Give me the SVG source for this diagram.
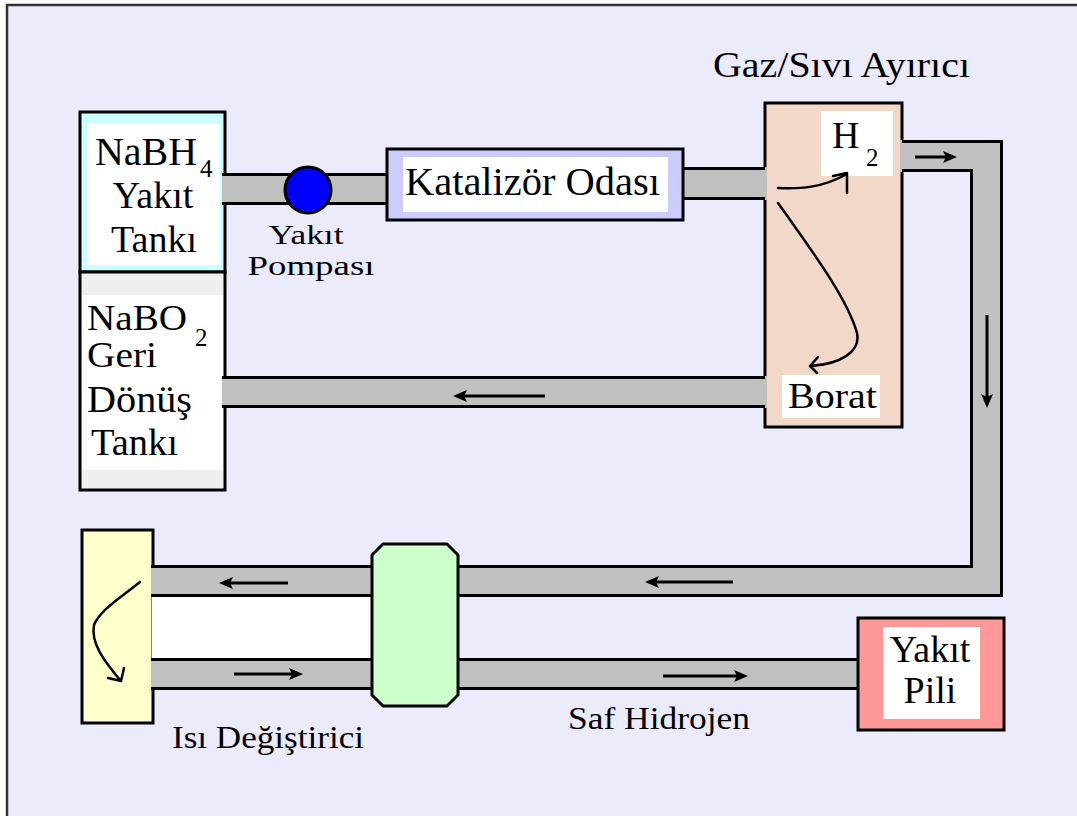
<svg xmlns="http://www.w3.org/2000/svg" width="1077" height="816" viewBox="0 0 1077 816">
<style>
text{font-family:"Liberation Serif","DejaVu Serif",serif;fill:#000}
.box{stroke:#000;stroke-width:3}
.pipe{fill:#c0c0c0}
.edge{stroke:#000;stroke-width:3;fill:none}
.flow{stroke:#000;stroke-width:3;fill:none}
.hand{stroke:#000;stroke-width:2.5;fill:none;stroke-linecap:round;stroke-linejoin:round}
</style>
<defs>
<marker id="ah" viewBox="0 0 14 12" refX="9" refY="6" markerWidth="14" markerHeight="12" markerUnits="userSpaceOnUse" orient="auto">
<path d="M0,0 L14,6 L0,12 L3,6 Z" fill="#000"/>
</marker>
</defs>
<rect x="0" y="0" width="1077" height="816" fill="#fff"/>
<rect id="frame" x="7" y="5" width="1090" height="830" fill="#ebebfc" stroke="#333" stroke-width="2.5"/>

<g id="nabh4-tank">
<rect class="box" x="80" y="112" width="145" height="160" fill="#ccffff"/>
<rect x="87" y="124" width="133" height="141" fill="#fff"/>
<text x="95" y="165" font-size="40" textLength="102" lengthAdjust="spacingAndGlyphs">NaBH</text>
<text x="200" y="177" font-size="25">4</text>
<text x="153" y="208" font-size="38" text-anchor="middle">Yakıt</text>
<text x="154" y="252" font-size="38" text-anchor="middle">Tankı</text>
</g>

<g id="nabo2-tank">
<rect class="box" x="80" y="272" width="145" height="218" fill="#efefef"/>
<rect x="82" y="295" width="141" height="175" fill="#fff"/>
<text x="87" y="330" font-size="35" textLength="100" lengthAdjust="spacingAndGlyphs">NaBO</text>
<text x="195" y="346" font-size="25">2</text>
<text x="87" y="367" font-size="35" textLength="70" lengthAdjust="spacingAndGlyphs">Geri</text>
<text x="87" y="412" font-size="37" textLength="105" lengthAdjust="spacingAndGlyphs">Dönüş</text>
<text x="91" y="455" font-size="37" textLength="87" lengthAdjust="spacingAndGlyphs">Tankı</text>
</g>

<g id="separator">
<rect class="box" x="765" y="103" width="137" height="324" fill="#f2d8c8"/>
<rect x="821" y="111" width="72" height="65" fill="#fff"/>
<text x="832" y="148" font-size="38">H</text>
<text x="866" y="166" font-size="25">2</text>
<rect x="782" y="375" width="98" height="43" fill="#fff"/>
<text x="788" y="408" font-size="36" textLength="89" lengthAdjust="spacingAndGlyphs">Borat</text>
<text x="713" y="77" font-size="36" textLength="257" lengthAdjust="spacingAndGlyphs">Gaz/Sıvı Ayırıcı</text>
</g>

<g id="heat-exchanger-end">
<rect class="box" x="82" y="530" width="71" height="193" fill="#ffffcc"/>
</g>

<g id="connectors">
<rect class="pipe" x="222" y="173" width="165" height="32"/>
<path class="edge" d="M222,174.5 H387 M222,203.5 H387"/>
<rect class="pipe" x="683" y="167" width="84" height="33"/>
<path class="edge" d="M683,168.5 H765 M683,198.5 H765"/>
<rect class="pipe" x="222" y="376" width="545" height="32"/>
<path class="edge" d="M222,377.5 H765 M222,406.5 H765"/>
<path class="pipe" d="M900,140 H1003 V597 H458 V565 H970 V172 H900 Z"/>
<path class="edge" d="M902,141.5 H1001.5 V595.5 H458 M902,170.5 H971.5 V566.5 H458"/>
<rect x="152" y="597" width="220" height="61" fill="#fff"/>
<rect class="pipe" x="151" y="565" width="221" height="32"/>
<path class="edge" d="M151,566.5 H372 M151,595.5 H372"/>
<rect class="pipe" x="151" y="658" width="221" height="32"/>
<path class="edge" d="M151,659.5 H372 M151,688.5 H372"/>
<rect class="pipe" x="458" y="658" width="400" height="32"/>
<path class="edge" d="M458,659.5 H858 M458,688.5 H858"/>
</g>

<g id="catalyst-chamber">
<rect class="box" x="387" y="149" width="296" height="71" fill="#ccccff"/>
<rect x="403" y="157" width="265" height="55" fill="#fff"/>
<text x="405" y="195" font-size="40" textLength="255" lengthAdjust="spacingAndGlyphs">Katalizör Odası</text>
</g>

<g id="pump">
<circle cx="308" cy="190" r="23" fill="#0000ff" stroke="#000" stroke-width="3"/>
<text x="306" y="244" font-size="28" text-anchor="middle" textLength="75" lengthAdjust="spacingAndGlyphs">Yakıt</text>
<text x="311" y="275" font-size="28" text-anchor="middle" textLength="127" lengthAdjust="spacingAndGlyphs">Pompası</text>
</g>

<g id="heat-exchanger">
<path class="box" d="M383,544 H447 L458,555 V695 L447,706 H383 L372,695 V555 Z" fill="#ccffcc" stroke-linejoin="round"/>
<text x="172" y="748" font-size="32" textLength="192" lengthAdjust="spacingAndGlyphs">Isı Değiştirici</text>
</g>

<g id="fuel-cell">
<rect class="box" x="858" y="618" width="146" height="112" fill="#ff9999"/>
<rect x="883" y="627" width="97" height="92" fill="#fff"/>
<text x="930" y="662" font-size="38" text-anchor="middle">Yakıt</text>
<text x="930" y="703" font-size="38" text-anchor="middle">Pili</text>
</g>

<g id="label-saf">
<text x="568" y="729" font-size="32" textLength="182" lengthAdjust="spacingAndGlyphs">Saf Hidrojen</text>
</g>

<g id="flow-arrows">
<line class="flow" x1="915" y1="157" x2="952" y2="157" marker-end="url(#ah)"/>
<line class="flow" x1="987" y1="315" x2="987" y2="403" marker-end="url(#ah)"/>
<line class="flow" x1="545" y1="396" x2="458" y2="396" marker-end="url(#ah)"/>
<line class="flow" x1="733" y1="582" x2="650" y2="582" marker-end="url(#ah)"/>
<line class="flow" x1="663" y1="676" x2="743" y2="676" marker-end="url(#ah)"/>
<line class="flow" x1="288" y1="583" x2="224" y2="583" marker-end="url(#ah)"/>
<line class="flow" x1="234" y1="674" x2="298" y2="674" marker-end="url(#ah)"/>
<path class="hand" d="M778,188 C800,189 822,188 847,174 M833,176 L847,173 L847,193"/>
<path class="hand" d="M778,203 C815,255 848,300 857,333 C861,352 840,364 811,366 M818,357 L810,366 L817,373"/>
<path class="hand" d="M140,582 C120,598 100,610 94,625 C90,645 108,665 120,680 M108,678 L121,681 L124,668"/>
</g>
</svg>
